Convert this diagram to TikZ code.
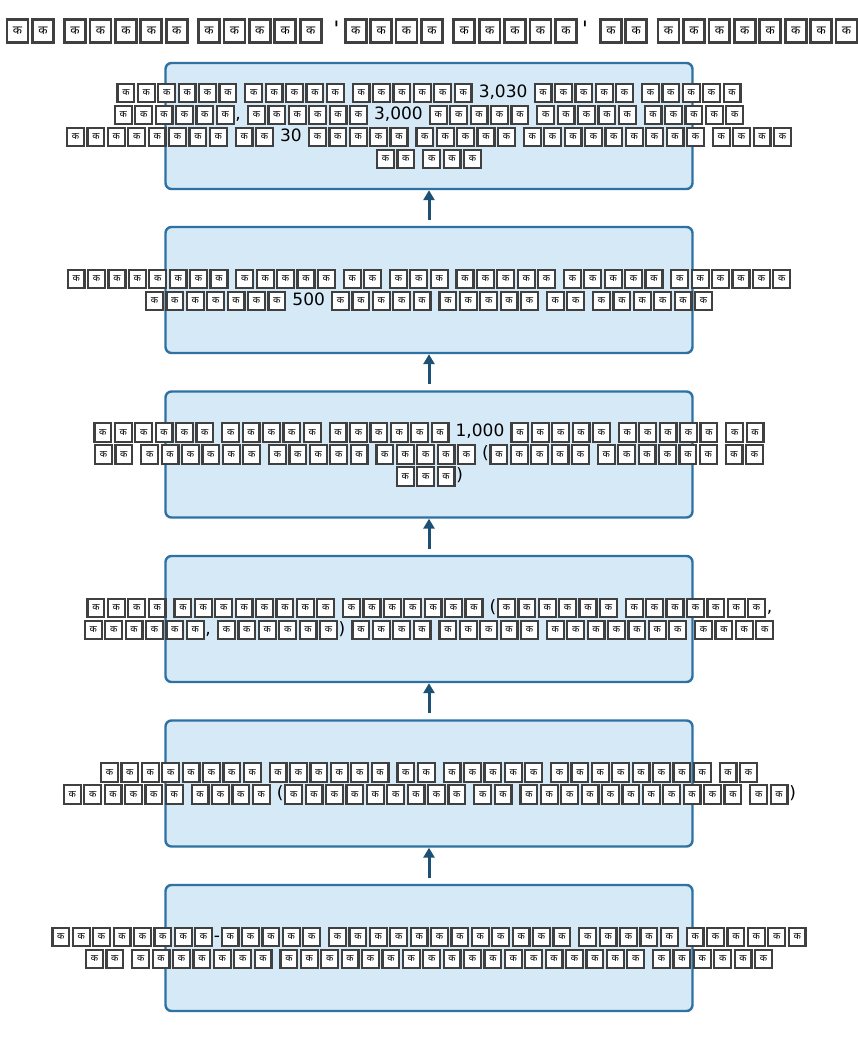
\documentclass[tikz,border=0pt]{standalone}
\usepackage{fontspec}
\setmainfont{DejaVu Sans}
\newfontfamily\devfont[Script=Devanagari]{Noto Sans}
\newfontfamily\apf{DejaVu Sans Mono}
\usetikzlibrary{arrows.meta}
\definecolor{boxfill}{RGB}{214,233,246}
\definecolor{boxedge}{RGB}{46,113,163}
\definecolor{arrowc}{RGB}{28,80,117}
\def\tk{9.5}
\newcommand\tofu{\hbox to 1.2em{\hss\raisebox{-0.22em}{\fboxsep=0pt\fboxrule=0.13em\fcolorbox{black!75}{white}{\vbox to 0.96em{\vss\hbox to 0.86em{\hss\devfont\fontsize{\tk}{\tk}\selectfont क\hss}\vss}}}\hss}}
\ExplSyntaxOn
\NewDocumentCommand\W{m}{\prg_replicate:nn{#1}{\tofu}}
\ExplSyntaxOff
\newcommand\bodyfont{\fontsize{17}{22}\selectfont\def\tk{9.5}}
\newcommand\titlefont{\fontsize{21.2}{26}\selectfont\def\tk{12}}
\newcommand\ap{{\apf\char39}}
\tikzset{
  stagebox/.style={draw=boxedge, fill=boxfill, line width=2.4pt, rounded corners=6pt,
    minimum width=527pt, minimum height=126pt, inner sep=0pt},
  stagetext/.style={font=\bodyfont, align=center, inner sep=0pt, text=black},
  flowarrow/.style={draw=arrowc, line width=3pt, -{Triangle[length=10pt,width=11pt]}}
}
\begin{document}
\begin{tikzpicture}[x=1pt,y=-1pt]
\fill[white] (0,0) rectangle (858,1053);
\useasboundingbox (0,0) rectangle (858,1053);
\node[font=\titlefont, inner sep=0pt] (title) at (432,31)
  {\W{2} \W{5} \W{5} \ap\W{4} \W{5}\ap{} \W{2} \W{8}};

\node[stagebox] (b1) at (429,126) {};
\node[stagebox] (b2) at (429,290) {};
\node[stagebox] (b3) at (429,454.5) {};
\node[stagebox] (b4) at (429,619) {};
\node[stagebox] (b5) at (429,783.5) {};
\node[stagebox] (b6) at (429,948) {};

\node[stagetext] (t1) at (b1.center) {\W{6} \W{5} \W{6} 3,030 \W{5} \W{5}\\
  \W{6}, \W{6} 3,000 \W{5} \W{5} \W{5}\\
  \W{8} \W{2} 30 \W{5} \W{5} \W{9} \W{4}\\
  \W{2} \W{3}};
\node[stagetext] (t2) at (b2.center) {\W{8} \W{5} \W{2} \W{3} \W{5} \W{5} \W{6}\\
  \W{7} 500 \W{5} \W{5} \W{2} \W{6}};
\node[stagetext] (t3) at (b3.center) {\W{6} \W{5} \W{6} 1,000 \W{5} \W{5} \W{2}\\
  \W{2} \W{6} \W{5} \W{5} (\W{5} \W{6} \W{2}\\
  \W{3})};
\node[stagetext] (t4) at (b4.center) {\W{4} \W{8} \W{7} (\W{6} \W{7},\\
  \W{6}, \W{6}) \W{4} \W{5} \W{7} \W{4}};
\node[stagetext] (t5) at (b5.center) {\W{8} \W{6} \W{2} \W{5} \W{8} \W{2}\\
  \W{6} \W{4} (\W{9} \W{2} \W{11} \W{2})};
\node[stagetext] (t6) at (b6.center) {\W{8}-\W{5} \W{12} \W{5} \W{6}\\
  \W{2} \W{7} \W{18} \W{6}};

\draw[flowarrow] ([yshift=6pt]b2.north) -- (b1.south);
\draw[flowarrow] ([yshift=6pt]b3.north) -- (b2.south);
\draw[flowarrow] ([yshift=6pt]b4.north) -- (b3.south);
\draw[flowarrow] ([yshift=6pt]b5.north) -- (b4.south);
\draw[flowarrow] ([yshift=6pt]b6.north) -- (b5.south);
\end{tikzpicture}
\end{document}
